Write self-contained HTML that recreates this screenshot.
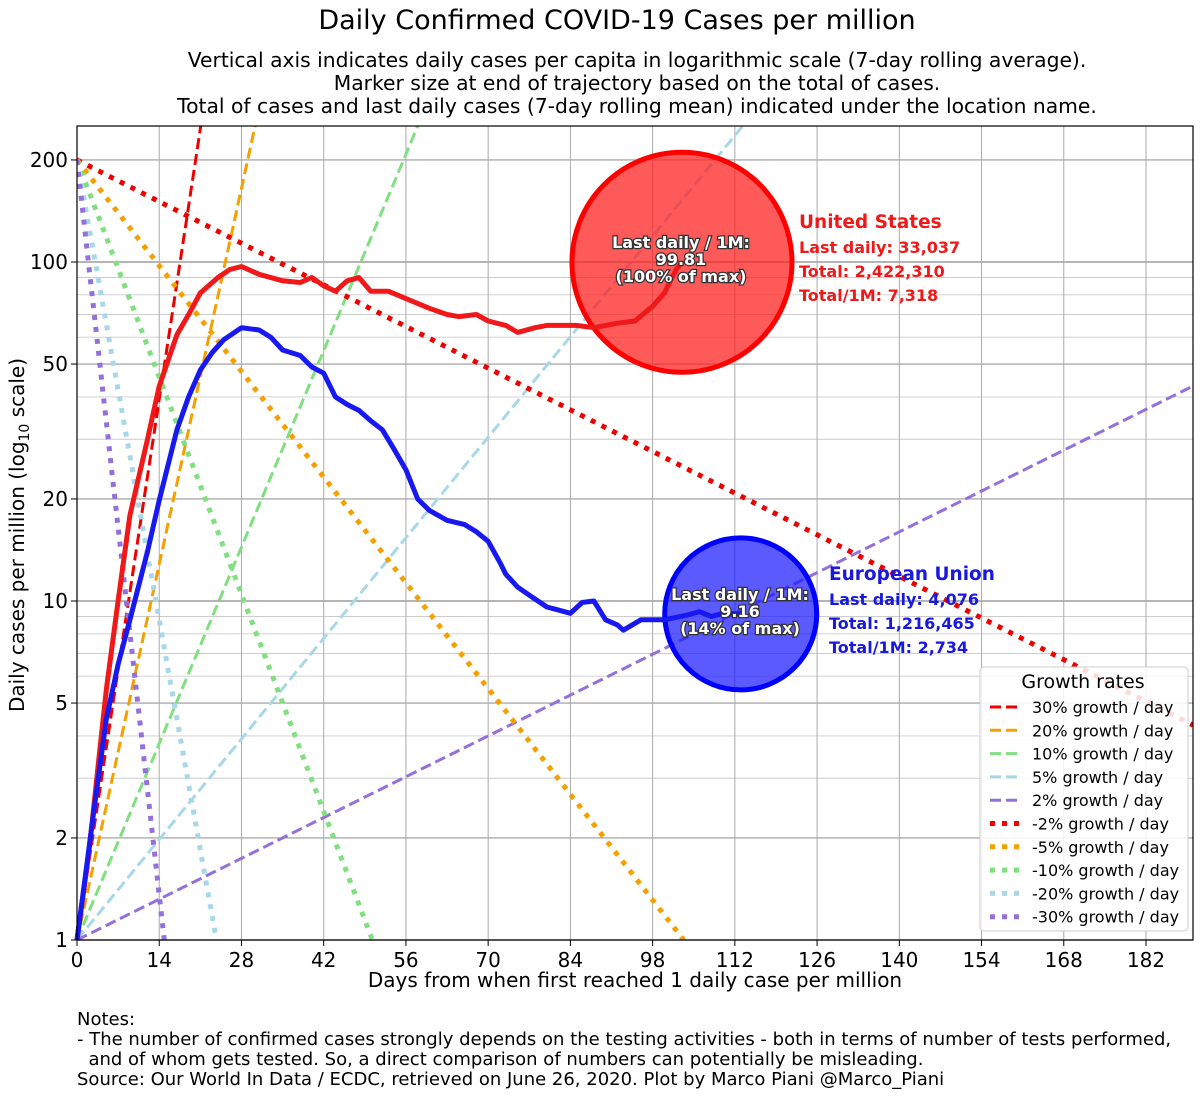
<!DOCTYPE html>
<html><head><meta charset="utf-8"><style>
body{margin:0;background:#fff;}
svg text{font-family:"DejaVu Sans","Liberation Sans",sans-serif;}
</style></head><body>
<svg id="c" width="1200" height="1096" xmlns="http://www.w3.org/2000/svg">
<text x="617" y="29" font-size="27" text-anchor="middle">Daily Confirmed COVID-19 Cases per million</text>
<g font-size="20.3" text-anchor="middle">
<text x="637" y="67">Vertical axis indicates daily cases per capita in logarithmic scale (7-day rolling average).</text>
<text x="637" y="90">Marker size at end of trajectory based on the total of cases.</text>
<text x="637" y="113">Total of cases and last daily cases (7-day rolling mean) indicated under the location name.</text>
</g>
<g id="grid"></g><g id="refs"></g><g id="series"></g><g id="axes"></g>
<g font-size="18">
<text x="77" y="1025">Notes:</text>
<text x="77" y="1045">- The number of confirmed cases strongly depends on the testing activities - both in terms of number of tests performed,</text>
<text x="77" y="1065" xml:space="preserve">  and of whom gets tested. So, a direct comparison of numbers can potentially be misleading.</text>
<text x="77" y="1085">Source: Our World In Data / ECDC, retrieved on June 26, 2020. Plot by Marco Piani @Marco_Piani</text>
</g>
</svg>
<script>
const xTicks=[0,14,28,42,56,70,84,98,112,126,140,154,168,182];
const yTicks=[1,2,5,10,20,50,100,200];
const usDays=[0,2,3,4,5,7,9,12,14,17,19,21,24,26,28,31,35,38,40,42,44,46,48,50,53,56,60,63,65,68,70,73,75,78,80,83,85,88,90,92,95,98,100,102,103];
const usVals=[1,1.8,2.6,3.8,5.5,10,17.9,30,43,61,70,81,90,95,97,92,88,87,90,85,82,88,90,82,82,78,73,70,69,70,67,65,62,64,65,65,65,64,65,66,67,74,81,95,99.81];
const euDays=[0,3,5,7,9,12,14,17,19,21,23,25,28,31,33,35,38,40,42,44,46,48,50,52,54,56,58,60,63,66,68,70,72,73,75,77,80,82,84,86,88,90,92,93,96,100,104,106,108,110,113];
const euVals=[1,2.5,4.5,6.5,8.8,14,19.8,32,40,48,54,59,64,63,60,55,53,49,47,40,38,36.5,34,32,28,24.4,20,18.5,17.3,16.8,16,15,13,12,11,10.4,9.6,9.4,9.2,9.9,10,8.8,8.5,8.2,8.8,8.8,9.1,9.3,9.0,9.2,9.16];
const growth=[0.30,0.20,0.10,0.05,0.02];
const decline=[-0.02,-0.05,-0.10,-0.20,-0.30];
const gColors=['#e00','#f5a000','#80e080','#a8d8e8','#9370db'];
const dColors=['#e00','#f5a000','#80e080','#a8d8e8','#9370db'];

const L=77,R=1193,T=126,B=940,X0=0,X1=190,DEC=339;
const X=d=>L+(d-X0)*(R-L)/(X1-X0);
const Y=v=>B-Math.log10(v)*DEC;
const NS='http://www.w3.org/2000/svg';
function mk(tag,attrs,parent){const e=document.createElementNS(NS,tag);for(const k in attrs)e.setAttribute(k,attrs[k]);parent.appendChild(e);return e;}
const svg=document.getElementById('c');
const grid=document.getElementById('grid'),refs=document.getElementById('refs'),ser=document.getElementById('series'),axes=document.getElementById('axes');
mk('clipPath',{id:'clip'},svg).appendChild((()=>{const r=document.createElementNS(NS,'rect');r.setAttribute('x',L);r.setAttribute('y',T);r.setAttribute('width',R-L);r.setAttribute('height',B-T);return r;})());
for(let dec=1;dec<=100;dec*=10){for(let m=1;m<10;m++){const v=dec*m;if(Y(v)<T)continue;
 const ln=mk('line',{x1:L,x2:R,y1:Y(v),y2:Y(v),stroke:m==1?'#999':'#ccc','stroke-width':m==1?1.2:0.9},grid);
 }}
yTicks.forEach(v=>{const ln=mk('line',{x1:L,x2:R,y1:Y(v),y2:Y(v),stroke:'#999','stroke-width':1.2},grid);
 });
xTicks.forEach(d=>{const ln=mk('line',{x1:X(d),x2:X(d),y1:T,y2:B,stroke:'#aaa','stroke-width':1},grid);
 });
function refLine(r,start,color,dash,w,name){let pts=[];for(let d=0;d<=X1;d+=0.5){const v=start*Math.pow(1+r,d);if(v<0.9||v>400){if(pts.length)break;continue;}pts.push(X(d).toFixed(1)+','+Y(v).toFixed(1));}
 const p=mk('polyline',{points:pts.join(' '),fill:'none',stroke:color,'stroke-width':w,'stroke-dasharray':dash,'clip-path':'url(#clip)'},refs);
 }
growth.forEach((r,i)=>refLine(r,1,gColors[i],'11,5',3,'growth-line-'+Math.round(r*100)));
decline.forEach((r,i)=>refLine(r,200,dColors[i],'5,7',5,'decline-line-'+Math.round(-r*100)));
function series(days,vals,color,name){const p=mk('polyline',{points:days.map((d,i)=>X(d).toFixed(1)+','+Y(vals[i]).toFixed(1)).join(' '),fill:'none',stroke:color,'stroke-width':5,'stroke-linejoin':'round'},ser);
 }
function marker(d,v,r,fill,stroke,name){const c=mk('circle',{cx:X(d),cy:Y(v),r:r,fill:fill,'fill-opacity':0.72,stroke:stroke,'stroke-width':5},ser);
 }
marker(usDays[usDays.length-1],usVals[usVals.length-1],110,'#ff1a1a','#f00','us-marker');
marker(euDays[euDays.length-1],euVals[euVals.length-1],76,'#1a1aff','#00f','eu-marker');
series(usDays,usVals,'#f01818','us-line');
series(euDays,euVals,'#1818f0','eu-line');
function lbl(x,y,lines,name){const t=mk('text',{x:x,y:y,'font-size':16,'font-weight':'bold','text-anchor':'middle',fill:'#fff',stroke:'#333','stroke-width':2.5,'paint-order':'stroke'},ser);
 
 lines.forEach((s,i)=>{const ts=mk('tspan',{x:x,dy:i?17:0},t);ts.textContent=s;});}
lbl(681,248,['Last daily / 1M:','99.81','(100% of max)'],'us-marker-label');
lbl(740,600,['Last daily / 1M:','9.16','(14% of max)'],'eu-marker-label');
function info(x,y,color,lines,name){const g=mk('g',{fill:color,'font-weight':'bold'},ser);
 lines.forEach((s,i)=>{const t=mk('text',{x:x,y:y+(i==0?0:1+i*24),'font-size':i==0?18.5:16},g);t.textContent=s;});}
info(799,228,'#f01818',['United States','Last daily: 33,037','Total: 2,422,310','Total/1M: 7,318'],'us-info');
info(829,580,'#1818e0',['European Union','Last daily: 4,076','Total: 1,216,465','Total/1M: 2,734'],'eu-info');
mk('rect',{x:L,y:T,width:R-L,height:B-T,fill:'none',stroke:'#000','stroke-width':1.2},axes);
xTicks.forEach(d=>{mk('line',{x1:X(d),x2:X(d),y1:B,y2:B+6,stroke:'#000'},axes);const t=mk('text',{x:X(d),y:B+27,'font-size':20,'text-anchor':'middle'},axes);t.textContent=d;});
yTicks.forEach(v=>{mk('line',{x1:L-6,x2:L,y1:Y(v),y2:Y(v),stroke:'#000'},axes);const t=mk('text',{x:L-9,y:Y(v)+7,'font-size':20,'text-anchor':'end'},axes);t.textContent=v;});
const xt=mk('text',{x:635,y:987,'font-size':20,'text-anchor':'middle'},axes);xt.textContent='Days from when first reached 1 daily case per million';

const yt=mk('text',{x:24,y:535,'font-size':20,'text-anchor':'middle',transform:'rotate(-90 24 535)'},axes);

yt.innerHTML='Daily cases per million (log<tspan font-size="14" dy="5">10</tspan><tspan dy="-5"> scale)</tspan>';
const lg=mk('g',{},axes);
mk('rect',{x:980,y:667,width:208,height:264,rx:4,fill:'#fff','fill-opacity':0.85,stroke:'#ccc'},lg);
const lt=mk('text',{x:1083,y:688,'font-size':19,'text-anchor':'middle'},lg);lt.textContent='Growth rates';
const entries=growth.map((r,i)=>[Math.round(r*100)+'% growth / day',gColors[i],'11,5',3]).concat(decline.map((r,i)=>[Math.round(r*100)+'% growth / day',dColors[i],'5,7',5]));
entries.forEach((e,i)=>{const y=707+i*23.3;const g=mk('g',{},lg);
 mk('line',{x1:990,x2:1022,y1:y,y2:y,stroke:e[1],'stroke-width':e[3],'stroke-dasharray':e[2]},g);
 const t=mk('text',{x:1032,y:y+6,'font-size':16},g);t.textContent=e[0];});
</script>
</body></html>
